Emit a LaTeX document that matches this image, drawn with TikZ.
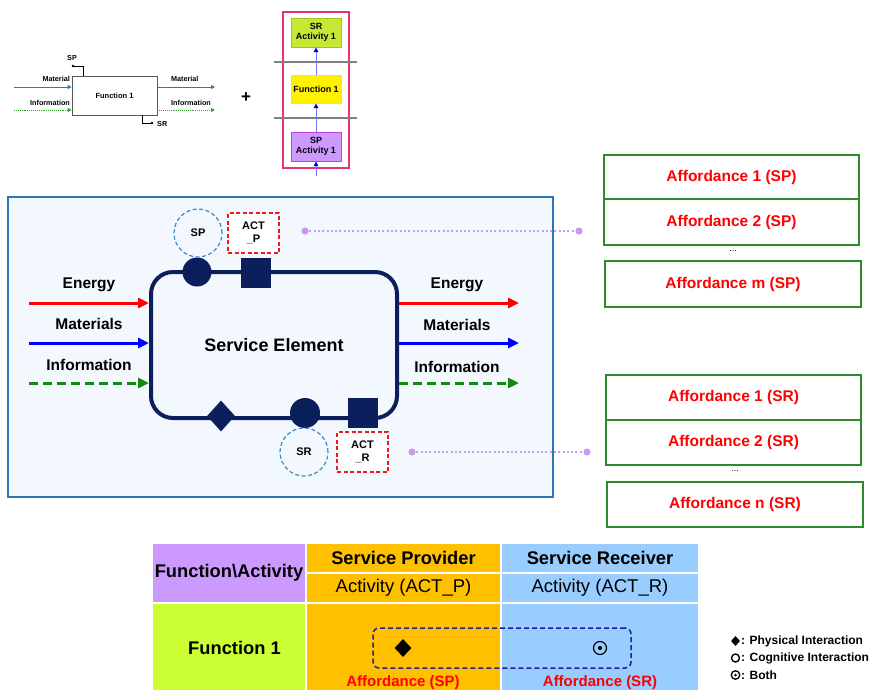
\documentclass[tikz,border=0pt]{standalone}
\usepackage{fontspec}
\setmainfont{Liberation Sans}
\usetikzlibrary{arrows.meta,shapes.geometric,calc}

\definecolor{navy}{HTML}{0B1F5C}
\definecolor{frameblue}{HTML}{2E75B6}
\definecolor{panelfill}{HTML}{F2F8FD}
\definecolor{roleblue}{HTML}{3A8CCB}
\definecolor{actred}{HTML}{F01818}
\definecolor{linkpurple}{HTML}{CC99F0}
\definecolor{affgreen}{HTML}{2E8B2E}
\definecolor{cellpurple}{HTML}{CC99FF}
\definecolor{cellorange}{HTML}{FFC000}
\definecolor{cellblue}{HTML}{99CCFF}
\definecolor{celllime}{HTML}{CCFF33}
\definecolor{groupblue}{HTML}{1E1EA0}
\definecolor{flowgreen}{HTML}{128A12}
\definecolor{flowred}{HTML}{FF0000}
\definecolor{flowblue}{HTML}{0000FF}
\definecolor{miniblue}{HTML}{2E75B6}
\definecolor{minigreen}{HTML}{2BA52B}
\definecolor{stackpink}{HTML}{E8336E}
\definecolor{srfill}{HTML}{C4E834}
\definecolor{srline}{HTML}{A2C41C}
\definecolor{fnline}{HTML}{F5CBA8}
\definecolor{spline}{HTML}{C040E8}
\definecolor{stackarrow}{HTML}{0000E0}

\newcommand\fsz[2]{\fontsize{#1pt}{#2pt}\selectfont}

\tikzset{
  minibox/.style={draw=black!65, line width=0.6, inner sep=0pt,
    minimum width=85, minimum height=39, font=\fsz{7.5}{9}\bfseries},
  minilabel/.style={inner sep=0pt, font=\fsz{7.2}{9}\bfseries},
  miniflow/.style={line width=0.9, -{Triangle[length=4,width=4]}},
  stackbox/.style={inner sep=0pt, minimum width=50, align=center,
    line width=1, font=\fsz{9}{10}\bfseries},
  stackflow/.style={draw=stackarrow!55, line width=1,
    -{Triangle[length=4.5,width=4.5,color=stackarrow]}},
  port/.style={fill=navy, inner sep=0pt},
  roleball/.style={circle, draw=roleblue, dashed, dash pattern=on 4pt off 2.5pt,
    line width=1.2, minimum size=48, inner sep=0pt, font=\fsz{11}{12}\bfseries},
  actbox/.style={draw=actred, fill=white, dashed, dash pattern=on 4pt off 2.5pt,
    line width=1.2, minimum width=51, minimum height=40, inner sep=0pt,
    align=center, font=\fsz{11}{13}\bfseries},
  flowlabel/.style={inner sep=0pt, font=\fsz{15.5}{17}\bfseries},
  bigflow/.style={line width=3, -{Triangle[length=11,width=10]}},
  link/.style={draw=linkpurple, line width=2.5, dash pattern=on 2pt off 2.3pt},
  linkend/.style={fill=linkpurple},
  affbox/.style={draw=affgreen, line width=1.3, inner sep=0pt, minimum width=255,
    text=flowred, font=\fsz{15.5}{17}\bfseries},
  dotsnote/.style={inner sep=0pt, font=\fsz{9}{10}},
  cell/.style={inner sep=0pt, align=center},
  headbold/.style={font=\fsz{18.3}{20}\bfseries},
  headplain/.style={font=\fsz{18.5}{20}},
  afflabel/.style={inner sep=0pt, text=flowred, font=\fsz{15}{17}\bfseries},
  legendtext/.style={inner sep=0pt, anchor=west, font=\fsz{12}{14}\bfseries}
}

\begin{document}
\begin{tikzpicture}[x=1pt,y=-1pt]
\useasboundingbox (0,0) rectangle (877,689);

% ---------- function block with its flows ----------
\node[minibox] (f1) at (114.5,95.5) {Function 1};
\coordinate (spdot) at (73,66);
\coordinate (srdot) at (152,123);
\fill (spdot) circle (1.4);
\fill (srdot) circle (1.4);
\draw[line width=0.6] (spdot) -| ($(f1.north west)+(12,0)$);
\draw[line width=0.6] ($(f1.south east)+(-15,0)$) |- (srdot);
\node[minilabel] (splab) at (72,58) {SP};
\node[minilabel, anchor=west] (srlab) at (157,124) {SR};

\coordinate (minL1) at (14,87);
\coordinate (minL2) at (14,110);
\coordinate (minR1) at (215,87);
\coordinate (minR2) at (215,110);
\draw[miniflow, miniblue] (minL1) -- (minL1 -| f1.west);
\draw[miniflow, minigreen, densely dotted] (minL2) -- (minL2 -| f1.west);
\draw[miniflow, miniblue] (minR1 -| f1.east) -- (minR1);
\draw[miniflow, minigreen, densely dotted] (minR2 -| f1.east) -- (minR2);
\node[minilabel, anchor=east] (matin) at (70,79) {Material};
\node[minilabel, anchor=east] (infin) at (70,103) {Information};
\node[minilabel, anchor=west] (matout) at (171,79) {Material};
\node[minilabel, anchor=west] (infout) at (171,103) {Information};

\node[inner sep=0pt, font=\fsz{17}{18}\bfseries] (plus) at (246,98) {+};

% ---------- activity / function stack ----------
\draw[stackpink, line width=1.2] (283,12) rectangle (349,168);
\draw[black!50, line width=1.5] (274,62) -- (357,62);
\draw[black!50, line width=1.5] (274,118) -- (357,118);
\node[stackbox, draw=srline, fill=srfill, minimum height=29] (srbox) at (316,32.5) {SR\\Activity 1};
\node[stackbox, draw=fnline, fill=yellow, minimum height=28] (fnbox) at (316,89) {Function 1};
\node[stackbox, draw=spline, fill=cellpurple, minimum height=29] (spbox) at (316,146.5) {SP\\Activity 1};
\coordinate (stackin) at (316,176);
\draw[stackflow] (fnbox.north) -- (srbox.south);
\draw[stackflow] (spbox.north) -- (fnbox.south);
\draw[stackflow] (stackin) -- (spbox.south);

% ---------- service element panel ----------
\draw[frameblue, fill=panelfill, line width=1.5] (8,197) rectangle (553,497);
\node[draw=navy, line width=4, rounded corners=22, minimum width=246, minimum height=146,
      inner sep=0pt, font=\fsz{18}{20}\bfseries] (se) at (274,345) {Service Element};

\node[port, circle, minimum size=29] (spport) at (197,272) {};
\node[port, minimum size=30] (actpport) at (256,273) {};
\node[port, diamond, minimum width=28, minimum height=31] (physport) at (221,416) {};
\node[port, circle, minimum size=30] (srport) at (305,413) {};
\node[port, minimum size=30] (actrport) at (363,413) {};

\node[roleball] (sp) at (198,233) {SP};
\node[actbox] (actp) at (253.5,233) {ACT\\\_P};
\node[roleball] (sr) at (304,452) {SR};
\node[actbox] (actr) at (362.5,452) {ACT\\\_R};

% input flows
\coordinate (inE) at (29,303);
\coordinate (inM) at (29,343);
\coordinate (inI) at (29,383);
\draw[bigflow, flowred] (inE) -- (inE -| se.west);
\draw[bigflow, flowblue] (inM) -- (inM -| se.west);
\draw[bigflow, flowgreen, dash pattern=on 9pt off 5pt] (inI) -- (inI -| se.west);
\node[flowlabel] (inElab) at (89,285) {Energy};
\node[flowlabel] (inMlab) at (89,324) {Materials};
\node[flowlabel] (inIlab) at (89,365) {Information};

% output flows
\coordinate (outE) at (519,303);
\coordinate (outM) at (519,343);
\coordinate (outI) at (519,383);
\draw[bigflow, flowred] (outE -| se.east) -- (outE);
\draw[bigflow, flowblue] (outM -| se.east) -- (outM);
\draw[bigflow, flowgreen, dash pattern=on 9pt off 5pt] (outI -| se.east) -- (outI);
\node[flowlabel] (outElab) at (457,285) {Energy};
\node[flowlabel] (outMlab) at (457,325) {Materials};
\node[flowlabel] (outIlab) at (457,367) {Information};

% links to affordance lists
\coordinate (linkP1) at (305,231);
\coordinate (linkP2) at (579,231);
\coordinate (linkR1) at (412,452);
\coordinate (linkR2) at (587,452);
\draw[link] (linkP1) -- (linkP2);
\draw[link] (linkR1) -- (linkR2);
\foreach \p in {linkP1,linkP2,linkR1,linkR2} \fill[linkend] (\p) circle (3.6);

% ---------- affordance lists ----------
\node[affbox, minimum height=44] (affP1) at (731.5,177) {Affordance 1 (SP)};
\node[affbox, minimum height=46] (affP2) at (731.5,222) {Affordance 2 (SP)};
\node[dotsnote] (dotsP) at (733,251) {...};
\node[affbox, minimum width=256, minimum height=46] (affPm) at (733,284) {Affordance m (SP)};

\node[affbox, minimum height=45] (affR1) at (733.5,397.5) {Affordance 1 (SR)};
\node[affbox, minimum height=45] (affR2) at (733.5,442.5) {Affordance 2 (SR)};
\node[dotsnote] (dotsR) at (735,471) {...};
\node[affbox, minimum width=256, minimum height=45] (affRn) at (735,504.5) {Affordance n (SR)};

% ---------- function / activity table ----------
\node[cell, fill=cellpurple, minimum width=152, minimum height=58, headbold] (cfa) at (229,573) {Function\textbackslash Activity};
\node[cell, fill=cellorange, minimum width=193, minimum height=28, headbold] (csp) at (403.5,558) {Service Provider};
\node[cell, fill=cellorange, minimum width=193, minimum height=28, headplain] (cspa) at (403.5,588) {Activity (ACT\_P)};
\node[cell, fill=cellblue, minimum width=196, minimum height=28, headbold] (csr) at (600,558) {Service Receiver};
\node[cell, fill=cellblue, minimum width=196, minimum height=28, headplain] (csra) at (600,588) {Activity (ACT\_R)};
\node[cell, fill=celllime, minimum width=152, minimum height=90] (cf1) at (229,649) {};
\node[inner sep=0pt, headbold] (cf1text) at (234.5,648) {Function 1};
\node[cell, fill=cellorange, minimum width=193, minimum height=90] (cspf) at (403.5,649) {};
\node[cell, fill=cellblue, minimum width=196, minimum height=90] (csrf) at (600,649) {};

\node[draw=groupblue, dashed, dash pattern=on 5pt off 3pt, line width=1.5, rounded corners=6,
      minimum width=258, minimum height=40, inner sep=0pt] (grp) at (502,648) {};
\node[diamond, fill=black, minimum width=17, minimum height=18, inner sep=0pt] (physmark) at (403,648) {};
\node[circle, draw=black, line width=1.2, minimum size=13, inner sep=0pt] (bothmark) at (600,648) {};
\fill (bothmark.center) circle (2.1);
\node[afflabel] (affSPlab) at (403,682.5) {Affordance (SP)};
\node[afflabel] (affSRlab) at (600,682.5) {Affordance (SR)};

% ---------- legend ----------
\node[diamond, fill=black, minimum width=9, minimum height=10, inner sep=0pt] (legphys) at (735.5,641) {};
\node[circle, draw=black, line width=1.4, minimum size=8, inner sep=0pt] (legcog) at (735.5,658) {};
\node[circle, draw=black, line width=1.3, minimum size=8.5, inner sep=0pt] (legboth) at (735.5,675) {};
\fill (legboth.center) circle (1.5);
\node[legendtext] (legphystxt) at (741,641) {: Physical Interaction};
\node[legendtext] (legcogtxt) at (741,658) {: Cognitive Interaction};
\node[legendtext] (legbothtxt) at (741,675) {: Both};
\end{tikzpicture}
\end{document}
